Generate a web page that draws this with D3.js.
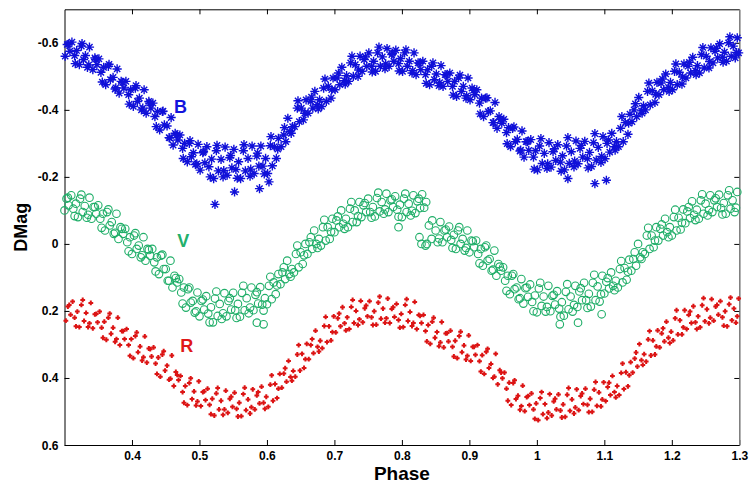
<!DOCTYPE html>
<html>
<head>
<meta charset="utf-8">
<script src="https://cdn.jsdelivr.net/npm/d3@7"></script>
<style>
  body { margin: 0; background: #fff; overflow: hidden; }
  svg { display: block; font-family: "Liberation Sans", Arial, sans-serif; }
  .axis path, .axis line { stroke: #000; }
  .axis text { font-size: 12px; font-weight: bold; fill: #000; }
</style>
</head>
<body>
<svg id="chart"></svg>
<script>
const width = 752;
const height = 484;
const margin = { left: 64.5, right: 12.7, top: 9.3, bottom: 39 };

const xTicks = [0.4, 0.5, 0.6, 0.7, 0.8, 0.9, 1.0, 1.1, 1.2, 1.3];
const yTicks = [-0.6, -0.4, -0.2, 0, 0.2, 0.4, 0.6];

// [phase, DMag]
const bPoints = [
  [0.301,-0.56],[0.304,-0.595],[0.308,-0.575],[0.311,-0.602],[0.315,-0.562],[0.318,-0.577],
  [0.322,-0.535],[0.325,-0.59],[0.328,-0.55],[0.331,-0.562],[0.334,-0.527],[0.337,-0.587],
  [0.342,-0.52],[0.345,-0.555],[0.348,-0.535],[0.351,-0.552],[0.354,-0.512],[0.358,-0.527],
  [0.361,-0.475],[0.365,-0.53],[0.368,-0.49],[0.372,-0.497],[0.375,-0.462],[0.378,-0.522],
  [0.381,-0.45],[0.384,-0.485],[0.388,-0.465],[0.391,-0.485],[0.395,-0.445],[0.398,-0.46],
  [0.402,-0.41],[0.405,-0.465],[0.408,-0.425],[0.411,-0.435],[0.414,-0.40],[0.418,-0.46],
  [0.421,-0.39],[0.425,-0.425],[0.428,-0.405],[0.431,-0.42],[0.434,-0.38],[0.438,-0.395],
  [0.441,-0.34],[0.445,-0.395],[0.448,-0.355],[0.452,-0.352],[0.455,-0.317],[0.458,-0.377],
  [0.461,-0.295],[0.464,-0.33],[0.468,-0.31],[0.471,-0.325],[0.475,-0.285],[0.478,-0.30],
  [0.482,-0.245],[0.485,-0.30],[0.488,-0.26],[0.491,-0.272],[0.494,-0.237],[0.498,-0.297],
  [0.501,-0.22],[0.505,-0.272],[0.508,-0.242],[0.511,-0.29],[0.514,-0.23],[0.518,-0.253],
  [0.521,-0.195],[0.525,-0.278],[0.528,-0.218],[0.523,-0.118],
  [0.532,-0.252],[0.535,-0.20],[0.538,-0.289],[0.541,-0.205],[0.545,-0.257],[0.548,-0.227],
  [0.551,-0.282],[0.554,-0.222],[0.558,-0.245],[0.552,-0.155],
  [0.561,-0.195],[0.565,-0.278],[0.568,-0.218],[0.572,-0.255],[0.575,-0.202],[0.578,-0.292],
  [0.581,-0.21],[0.585,-0.262],[0.588,-0.232],[0.589,-0.165],
  [0.591,-0.292],[0.594,-0.232],[0.598,-0.255],[0.601,-0.21],[0.605,-0.293],[0.608,-0.233],[0.603,-0.185],
  [0.611,-0.29],[0.614,-0.255],[0.617,-0.315],[0.621,-0.29],[0.625,-0.325],[0.628,-0.305],
  [0.631,-0.375],[0.634,-0.335],[0.638,-0.35],[0.641,-0.35],[0.645,-0.405],[0.648,-0.365],
  [0.651,-0.405],[0.654,-0.37],[0.658,-0.43],[0.661,-0.39],[0.665,-0.425],[0.668,-0.405],
  [0.671,-0.455],[0.675,-0.415],[0.678,-0.43],[0.681,-0.41],[0.684,-0.465],[0.688,-0.425],
  [0.691,-0.47],[0.695,-0.435],[0.698,-0.495],[0.701,-0.46],[0.704,-0.495],[0.708,-0.475],
  [0.711,-0.527],[0.715,-0.487],[0.718,-0.502],[0.721,-0.485],[0.724,-0.54],[0.728,-0.50],
  [0.731,-0.535],[0.735,-0.50],[0.738,-0.56],[0.741,-0.515],[0.744,-0.55],[0.748,-0.53],
  [0.751,-0.57],[0.755,-0.53],[0.758,-0.545],[0.761,-0.515],[0.764,-0.57],[0.768,-0.53],
  [0.771,-0.558],[0.775,-0.523],[0.778,-0.583],[0.781,-0.53],[0.785,-0.565],[0.788,-0.545],
  [0.791,-0.578],[0.795,-0.538],[0.798,-0.553],[0.801,-0.515],[0.804,-0.57],[0.808,-0.53],
  [0.811,-0.545],[0.815,-0.51],[0.818,-0.57],[0.821,-0.505],[0.824,-0.54],[0.828,-0.52],
  [0.831,-0.545],[0.835,-0.505],[0.838,-0.52],[0.841,-0.475],[0.844,-0.53],[0.848,-0.49],
  [0.851,-0.507],[0.855,-0.472],[0.858,-0.532],[0.861,-0.47],[0.864,-0.505],[0.868,-0.485],
  [0.871,-0.51],[0.875,-0.47],[0.878,-0.485],[0.881,-0.44],[0.884,-0.495],[0.888,-0.455],
  [0.891,-0.47],[0.895,-0.435],[0.898,-0.495],[0.901,-0.43],[0.904,-0.465],[0.908,-0.445],
  [0.911,-0.46],[0.915,-0.42],[0.918,-0.435],[0.921,-0.38],[0.924,-0.435],[0.928,-0.395],
  [0.931,-0.397],[0.935,-0.362],[0.938,-0.422],[0.941,-0.345],[0.944,-0.38],[0.948,-0.36],
  [0.951,-0.372],[0.955,-0.332],[0.958,-0.347],[0.961,-0.29],[0.964,-0.345],[0.968,-0.305],
  [0.971,-0.312],[0.975,-0.277],[0.978,-0.337],[0.981,-0.259],[0.984,-0.305],[0.988,-0.279],
  [0.991,-0.311],[0.995,-0.259],[0.998,-0.278],[1.001,-0.221],[1.004,-0.292],[1.008,-0.24],
  [1.011,-0.27],[1.015,-0.225],[1.018,-0.302],[1.021,-0.229],[1.024,-0.275],[1.028,-0.249],
  [1.031,-0.296],[1.035,-0.244],[1.038,-0.263],[1.041,-0.221],[1.044,-0.292],[1.048,-0.24],[1.046,-0.195],
  [1.051,-0.275],[1.055,-0.23],[1.058,-0.307],[1.061,-0.239],[1.064,-0.285],[1.068,-0.259],
  [1.071,-0.306],[1.075,-0.254],[1.078,-0.273],[1.081,-0.231],[1.084,-0.302],[1.088,-0.25],[1.086,-0.18],
  [1.091,-0.288],[1.095,-0.243],[1.098,-0.32],[1.101,-0.254],[1.104,-0.30],[1.108,-0.274],[1.103,-0.19],
  [1.111,-0.33],[1.115,-0.29],[1.118,-0.305],[1.121,-0.29],[1.124,-0.345],[1.128,-0.305],
  [1.131,-0.362],[1.135,-0.327],[1.138,-0.387],[1.141,-0.365],[1.144,-0.40],[1.148,-0.38],
  [1.151,-0.437],[1.155,-0.397],[1.158,-0.412],[1.161,-0.40],[1.164,-0.455],[1.168,-0.415],
  [1.171,-0.457],[1.175,-0.422],[1.178,-0.482],[1.181,-0.445],[1.184,-0.48],[1.188,-0.46],
  [1.191,-0.507],[1.195,-0.467],[1.198,-0.482],[1.201,-0.46],[1.204,-0.515],[1.208,-0.475],
  [1.211,-0.512],[1.215,-0.477],[1.218,-0.537],[1.221,-0.495],[1.224,-0.53],[1.228,-0.51],
  [1.231,-0.557],[1.235,-0.517],[1.238,-0.532],[1.241,-0.51],[1.244,-0.565],[1.248,-0.525],
  [1.251,-0.56],[1.255,-0.525],[1.258,-0.585],[1.261,-0.54],[1.264,-0.575],[1.268,-0.555],
  [1.271,-0.597],[1.275,-0.557],[1.278,-0.572],[1.281,-0.545],[1.284,-0.60],[1.288,-0.56],
  [1.291,-0.59],[1.294,-0.555],[1.297,-0.615],[1.299,-0.57],
  // second pass
  [0.306,-0.596],[0.316,-0.538],[0.326,-0.598],[0.336,-0.534],[0.346,-0.551],[0.356,-0.483],
  [0.366,-0.536],[0.376,-0.466],[0.386,-0.482],[0.396,-0.417],[0.406,-0.472],[0.416,-0.405],
  [0.426,-0.42],[0.436,-0.35],[0.446,-0.396],[0.456,-0.316],[0.466,-0.325],[0.476,-0.255],
  [0.486,-0.308],[0.496,-0.239],[0.506,-0.275],[0.516,-0.20],[0.526,-0.294],[0.536,-0.219],
  [0.546,-0.264],[0.556,-0.196],[0.566,-0.296],[0.576,-0.223],[0.586,-0.271],[0.596,-0.209],
  [0.606,-0.32],[0.616,-0.283],[0.626,-0.347],[0.636,-0.33],[0.646,-0.427],[0.656,-0.39],
  [0.666,-0.438],[0.676,-0.403],[0.686,-0.492],[0.696,-0.46],[0.706,-0.51],[0.716,-0.477],
  [0.726,-0.56],[0.736,-0.519],[0.746,-0.558],[0.756,-0.513],[0.766,-0.587],[0.776,-0.537],
  [0.786,-0.569],[0.796,-0.516],[0.806,-0.579],[0.816,-0.517],[0.826,-0.539],[0.836,-0.479],
  [0.846,-0.54],[0.856,-0.481],[0.866,-0.504],[0.876,-0.444],[0.886,-0.504],[0.896,-0.442],
  [0.906,-0.458],[0.916,-0.388],[0.926,-0.436],[0.936,-0.362],[0.946,-0.371],[0.956,-0.299],
  [0.966,-0.349],[0.976,-0.28],[0.986,-0.305],[0.996,-0.223],[1.006,-0.314],[1.016,-0.239],
  [1.026,-0.284],[1.036,-0.217],[1.046,-0.317],[1.056,-0.247],[1.066,-0.294],[1.076,-0.227],
  [1.086,-0.329],[1.096,-0.261],[1.106,-0.31],[1.116,-0.28],[1.126,-0.38],[1.136,-0.36],
  [1.146,-0.418],[1.156,-0.39],[1.166,-0.48],[1.176,-0.446],[1.186,-0.492],[1.196,-0.455],
  [1.206,-0.537],[1.216,-0.498],[1.226,-0.542],[1.236,-0.505],[1.246,-0.586],[1.256,-0.544],
  [1.266,-0.584],[1.276,-0.542],[1.286,-0.618],[1.296,-0.571]
];

const vPoints = [
  [0.300,-0.10],[0.303,-0.135],[0.306,-0.115],[0.310,-0.145],[0.313,-0.105],[0.317,-0.12],
  [0.320,-0.08],[0.323,-0.135],[0.327,-0.095],[0.330,-0.113],[0.333,-0.078],[0.337,-0.138],
  [0.340,-0.075],[0.343,-0.11],[0.347,-0.09],[0.350,-0.115],[0.353,-0.075],[0.357,-0.09],
  [0.360,-0.04],[0.363,-0.095],[0.367,-0.055],[0.370,-0.065],[0.373,-0.03],[0.377,-0.09],
  [0.380,-0.015],[0.383,-0.05],[0.387,-0.03],[0.390,-0.045],[0.393,-0.005],[0.397,-0.02],
  [0.400,0.03],[0.403,-0.025],[0.407,0.015],[0.410,0.005],[0.413,0.04],[0.417,-0.02],
  [0.420,0.05],[0.423,0.015],[0.427,0.035],[0.430,0.015],[0.433,0.055],[0.437,0.04],
  [0.440,0.09],[0.443,0.035],[0.447,0.075],[0.450,0.075],[0.453,0.11],[0.457,0.05],
  [0.460,0.13],[0.463,0.095],[0.467,0.115],[0.470,0.105],[0.473,0.145],[0.477,0.13],
  [0.480,0.19],[0.483,0.135],[0.487,0.175],[0.490,0.17],[0.493,0.205],[0.497,0.145],
  [0.500,0.216],[0.503,0.17],[0.507,0.196],[0.510,0.156],[0.513,0.208],[0.517,0.189],
  [0.520,0.234],[0.523,0.163],[0.527,0.215],[0.530,0.179],[0.533,0.224],[0.537,0.147],
  [0.540,0.216],[0.543,0.17],[0.547,0.196],[0.550,0.146],[0.553,0.198],[0.557,0.179],
  [0.560,0.217],[0.563,0.146],[0.567,0.198],[0.570,0.162],[0.573,0.207],[0.577,0.13],
  [0.580,0.198],[0.583,0.152],[0.587,0.178],[0.585,0.235],
  [0.590,0.129],[0.593,0.181],[0.597,0.162],[0.595,0.24],
  [0.600,0.18],[0.603,0.125],[0.607,0.165],[0.610,0.115],[0.613,0.15],[0.617,0.09],
  [0.620,0.12],[0.623,0.085],[0.627,0.105],[0.630,0.05],[0.633,0.09],[0.637,0.075],
  [0.640,0.085],[0.643,0.03],[0.647,0.07],[0.650,0.025],[0.653,0.06],[0.657,0.0],
  [0.660,0.03],[0.663,-0.005],[0.667,0.015],[0.670,-0.04],[0.673,0.0],[0.677,-0.015],
  [0.680,0.005],[0.683,-0.05],[0.687,-0.01],[0.690,-0.05],[0.693,-0.015],[0.697,-0.075],
  [0.700,-0.035],[0.703,-0.07],[0.707,-0.05],[0.710,-0.10],[0.713,-0.06],[0.717,-0.075],
  [0.720,-0.05],[0.723,-0.105],[0.727,-0.065],[0.730,-0.10],[0.733,-0.065],[0.737,-0.125],
  [0.740,-0.08],[0.743,-0.115],[0.747,-0.095],[0.750,-0.135],[0.753,-0.095],[0.757,-0.11],
  [0.760,-0.082],[0.763,-0.137],[0.767,-0.097],[0.770,-0.125],[0.773,-0.09],[0.777,-0.15],
  [0.780,-0.095],[0.783,-0.13],[0.787,-0.11],[0.790,-0.142],[0.793,-0.102],[0.797,-0.117],
  [0.795,-0.05],[0.800,-0.08],[0.803,-0.135],[0.807,-0.095],[0.810,-0.12],[0.813,-0.085],
  [0.817,-0.145],[0.820,-0.092],[0.823,-0.127],[0.827,-0.107],[0.830,-0.148],[0.833,-0.108],
  [0.826,-0.02],[0.829,0.0],[0.837,0.0],[0.840,-0.055],[0.844,-0.015],
  [0.850,-0.04],[0.853,-0.005],[0.857,-0.065],[0.860,-0.005],[0.863,-0.04],[0.867,-0.02],
  [0.870,-0.052],[0.873,-0.012],[0.877,-0.027],[0.880,0.015],[0.883,-0.04],[0.887,0.0],
  [0.890,-0.015],[0.893,0.02],[0.897,-0.04],[0.900,0.025],[0.903,-0.01],[0.907,0.01],
  [0.910,-0.01],[0.913,0.03],[0.917,0.015],[0.920,0.065],[0.923,0.01],[0.927,0.05],
  [0.930,0.045],[0.933,0.08],[0.937,0.02],[0.940,0.095],[0.943,0.06],[0.947,0.08],
  [0.950,0.07],[0.953,0.11],[0.957,0.095],[0.960,0.15],[0.963,0.095],[0.967,0.135],
  [0.970,0.13],[0.973,0.165],[0.977,0.105],[0.980,0.178],[0.983,0.132],[0.987,0.158],
  [0.990,0.121],[0.993,0.173],[0.997,0.154],[1.000,0.204],[1.003,0.133],[1.007,0.185],
  [1.010,0.157],[1.013,0.202],[1.017,0.125],[1.020,0.201],[1.023,0.155],[1.027,0.181],
  [1.030,0.141],[1.033,0.193],[1.037,0.174],[1.034,0.24],
  [1.040,0.214],[1.043,0.143],[1.047,0.195],[1.050,0.157],[1.053,0.202],[1.057,0.125],
  [1.060,0.188],[1.063,0.142],[1.067,0.168],[1.061,0.235],
  [1.070,0.116],[1.073,0.168],[1.077,0.149],[1.080,0.187],[1.083,0.116],[1.087,0.168],
  [1.090,0.127],[1.093,0.172],[1.097,0.095],[1.096,0.21],
  [1.100,0.148],[1.103,0.113],[1.107,0.133],[1.110,0.085],[1.113,0.125],[1.117,0.11],
  [1.120,0.13],[1.123,0.075],[1.127,0.115],[1.130,0.072],[1.133,0.107],[1.137,0.047],
  [1.140,0.08],[1.143,0.045],[1.147,0.065],[1.150,0.0],[1.153,0.04],[1.157,0.025],
  [1.160,0.03],[1.163,-0.025],[1.167,0.015],[1.170,-0.025],[1.173,0.01],[1.177,-0.05],
  [1.180,-0.01],[1.183,-0.045],[1.187,-0.025],[1.190,-0.075],[1.193,-0.035],[1.197,-0.05],
  [1.200,-0.025],[1.203,-0.08],[1.207,-0.04],[1.210,-0.078],[1.213,-0.043],[1.217,-0.103],
  [1.220,-0.062],[1.223,-0.097],[1.227,-0.077],[1.230,-0.127],[1.233,-0.087],[1.237,-0.102],
  [1.240,-0.075],[1.243,-0.13],[1.247,-0.09],[1.250,-0.12],[1.253,-0.085],[1.257,-0.145],
  [1.260,-0.095],[1.263,-0.13],[1.267,-0.11],[1.270,-0.147],[1.273,-0.107],[1.277,-0.122],
  [1.280,-0.09],[1.283,-0.145],[1.287,-0.105],[1.290,-0.13],[1.293,-0.095],[1.297,-0.155],
  // second pass
  [0.305,-0.138],[0.315,-0.083],[0.325,-0.147],[0.335,-0.087],[0.345,-0.11],[0.355,-0.048],
  [0.365,-0.103],[0.375,-0.033],[0.385,-0.045],[0.395,0.022],[0.405,-0.032],[0.415,0.034],
  [0.425,0.018],[0.435,0.082],[0.445,0.032],[0.455,0.11],[0.465,0.102],[0.475,0.178],
  [0.485,0.13],[0.495,0.201],[0.505,0.166],[0.515,0.234],[0.525,0.142],[0.535,0.207],
  [0.545,0.162],[0.555,0.221],[0.565,0.125],[0.575,0.19],[0.585,0.144],[0.595,0.199],
  [0.605,0.098],[0.615,0.124],[0.625,0.07],[0.635,0.098],[0.645,0.005],[0.655,0.034],
  [0.665,-0.02],[0.675,0.012],[0.685,-0.072],[0.695,-0.036],[0.705,-0.082],[0.715,-0.045],
  [0.725,-0.125],[0.735,-0.083],[0.745,-0.122],[0.755,-0.078],[0.765,-0.153],[0.775,-0.103],
  [0.785,-0.133],[0.795,-0.081],[0.805,-0.15],[0.815,-0.099],[0.825,-0.135],[0.836,-0.125],
  [0.835,0.005],[0.845,-0.07],[0.855,-0.016],[0.865,-0.043],[0.875,0.012],[0.885,-0.05],
  [0.895,0.012],[0.905,-0.008],[0.915,0.058],[0.925,0.005],[0.935,0.077],[0.945,0.068],
  [0.955,0.14],[0.965,0.09],[0.975,0.162],[0.985,0.13],[0.995,0.201],[1.005,0.116],
  [1.015,0.188],[1.025,0.152],[1.035,0.217],[1.045,0.12],[1.055,0.182],[1.065,0.132],
  [1.075,0.191],[1.085,0.092],[1.095,0.15],[1.105,0.102],[1.115,0.138],[1.125,0.051],
  [1.135,0.083],[1.145,0.025],[1.155,0.045],[1.165,-0.048],[1.175,-0.01],[1.185,-0.058],
  [1.195,-0.02],[1.205,-0.102],[1.215,-0.063],[1.225,-0.11],[1.235,-0.071],[1.245,-0.148],
  [1.255,-0.101],[1.265,-0.136],[1.275,-0.088],[1.285,-0.16],[1.295,-0.108]
];

const rPoints = [
  [0.302,0.229],[0.305,0.187],[0.309,0.211],[0.312,0.172],[0.315,0.22],[0.319,0.202],
  [0.322,0.248],[0.325,0.182],[0.329,0.23],[0.332,0.206],[0.335,0.248],[0.339,0.176],
  [0.342,0.252],[0.345,0.21],[0.349,0.234],[0.352,0.202],[0.355,0.25],[0.359,0.232],
  [0.362,0.286],[0.365,0.22],[0.369,0.268],[0.372,0.25],[0.375,0.292],[0.379,0.22],
  [0.382,0.302],[0.385,0.26],[0.389,0.284],[0.392,0.254],[0.395,0.302],[0.399,0.284],
  [0.402,0.341],[0.405,0.275],[0.409,0.323],[0.412,0.306],[0.415,0.348],[0.419,0.276],
  [0.422,0.354],[0.425,0.312],[0.429,0.336],[0.432,0.309],[0.435,0.357],[0.439,0.339],
  [0.442,0.396],[0.445,0.33],[0.449,0.378],[0.452,0.363],[0.455,0.405],[0.459,0.333],
  [0.462,0.424],[0.465,0.382],[0.469,0.406],[0.472,0.394],[0.475,0.442],[0.479,0.424],
  [0.482,0.481],[0.485,0.415],[0.489,0.463],[0.492,0.44],[0.495,0.482],[0.499,0.41],
  [0.502,0.484],[0.505,0.442],[0.509,0.466],[0.512,0.432],[0.515,0.48],[0.519,0.462],
  [0.522,0.512],[0.525,0.446],[0.529,0.494],[0.532,0.468],[0.535,0.51],[0.539,0.438],
  [0.542,0.504],[0.545,0.462],[0.549,0.486],[0.552,0.444],[0.555,0.492],[0.559,0.474],
  [0.562,0.514],[0.565,0.448],[0.569,0.496],[0.572,0.464],[0.575,0.506],[0.579,0.434],
  [0.582,0.494],[0.585,0.452],[0.589,0.476],[0.592,0.426],[0.595,0.474],[0.599,0.456],
  [0.602,0.486],[0.605,0.42],[0.609,0.468],[0.612,0.418],[0.615,0.46],[0.619,0.388],
  [0.622,0.429],[0.625,0.387],[0.629,0.411],[0.632,0.349],[0.635,0.397],[0.639,0.379],
  [0.642,0.396],[0.645,0.33],[0.649,0.378],[0.652,0.328],[0.655,0.37],[0.659,0.298],
  [0.662,0.344],[0.665,0.302],[0.669,0.326],[0.672,0.259],[0.675,0.307],[0.679,0.289],
  [0.682,0.311],[0.685,0.245],[0.689,0.293],[0.692,0.246],[0.695,0.288],[0.699,0.216],
  [0.702,0.264],[0.705,0.222],[0.709,0.246],[0.712,0.189],[0.715,0.237],[0.719,0.219],
  [0.722,0.254],[0.725,0.188],[0.729,0.236],[0.732,0.2],[0.735,0.242],[0.739,0.17],
  [0.742,0.234],[0.745,0.192],[0.749,0.216],[0.752,0.171],[0.755,0.219],[0.759,0.201],
  [0.762,0.241],[0.765,0.175],[0.769,0.223],[0.772,0.193],[0.775,0.235],[0.779,0.163],
  [0.782,0.236],[0.785,0.194],[0.789,0.218],[0.792,0.179],[0.795,0.227],[0.799,0.209],
  [0.802,0.248],[0.805,0.182],[0.809,0.23],[0.812,0.203],[0.815,0.245],[0.819,0.173],
  [0.822,0.254],[0.825,0.212],[0.829,0.236],[0.832,0.212],[0.835,0.26],[0.839,0.242],
  [0.842,0.298],[0.845,0.232],[0.849,0.28],[0.852,0.263],[0.855,0.305],[0.859,0.233],
  [0.862,0.309],[0.865,0.267],[0.869,0.291],[0.872,0.259],[0.875,0.307],[0.879,0.289],
  [0.882,0.341],[0.885,0.275],[0.889,0.323],[0.892,0.303],[0.895,0.345],[0.899,0.273],
  [0.902,0.349],[0.905,0.307],[0.909,0.331],[0.912,0.302],[0.915,0.35],[0.919,0.332],
  [0.922,0.388],[0.925,0.322],[0.929,0.37],[0.932,0.358],[0.935,0.40],[0.939,0.328],
  [0.942,0.419],[0.945,0.377],[0.949,0.401],[0.952,0.384],[0.955,0.432],[0.959,0.414],
  [0.962,0.481],[0.965,0.415],[0.969,0.463],[0.972,0.453],[0.975,0.495],[0.979,0.423],
  [0.982,0.499],[0.985,0.457],[0.989,0.481],[0.992,0.446],[0.995,0.494],[0.999,0.476],
  [1.002,0.526],[1.005,0.46],[1.009,0.508],[1.012,0.478],[1.015,0.52],[1.019,0.448],
  [1.022,0.512],[1.025,0.47],[1.029,0.494],[1.032,0.449],[1.035,0.497],[1.039,0.479],
  [1.042,0.516],[1.045,0.45],[1.049,0.498],[1.052,0.464],[1.055,0.506],[1.059,0.434],
  [1.062,0.496],[1.065,0.454],[1.069,0.478],[1.072,0.432],[1.075,0.48],[1.079,0.462],
  [1.082,0.501],[1.085,0.435],[1.089,0.483],[1.092,0.443],[1.095,0.485],[1.099,0.413],
  [1.102,0.469],[1.105,0.427],[1.109,0.451],[1.112,0.394],[1.115,0.442],[1.119,0.424],
  [1.122,0.451],[1.125,0.385],[1.129,0.433],[1.132,0.383],[1.135,0.425],[1.139,0.353],
  [1.142,0.384],[1.145,0.342],[1.149,0.366],[1.152,0.299],[1.155,0.347],[1.159,0.329],
  [1.162,0.351],[1.165,0.285],[1.169,0.333],[1.172,0.288],[1.175,0.33],[1.179,0.258],
  [1.182,0.309],[1.185,0.267],[1.189,0.291],[1.192,0.232],[1.195,0.28],[1.199,0.262],
  [1.202,0.288],[1.205,0.222],[1.209,0.27],[1.212,0.228],[1.215,0.27],[1.219,0.198],
  [1.222,0.254],[1.225,0.212],[1.229,0.236],[1.232,0.186],[1.235,0.234],[1.239,0.216],
  [1.242,0.249],[1.245,0.183],[1.249,0.231],[1.252,0.195],[1.255,0.237],[1.259,0.165],
  [1.262,0.229],[1.265,0.187],[1.269,0.211],[1.272,0.171],[1.275,0.219],[1.279,0.201],
  [1.282,0.246],[1.285,0.18],[1.289,0.228],[1.292,0.193],[1.295,0.235],[1.299,0.163],
  // second pass
  [0.307,0.182],[0.317,0.246],[0.327,0.167],[0.337,0.237],[0.347,0.209],[0.357,0.28],
  [0.367,0.208],[0.377,0.284],[0.387,0.26],[0.397,0.334],[0.407,0.264],[0.417,0.338],
  [0.427,0.314],[0.437,0.388],[0.447,0.32],[0.457,0.402],[0.467,0.391],[0.477,0.474],
  [0.487,0.401],[0.497,0.47],[0.507,0.44],[0.517,0.508],[0.527,0.43],[0.537,0.494],
  [0.547,0.456],[0.557,0.515],[0.567,0.429],[0.577,0.487],[0.587,0.442],[0.597,0.492],
  [0.607,0.392],[0.617,0.432],[0.627,0.371],[0.637,0.408],[0.647,0.302],[0.657,0.344],
  [0.667,0.284],[0.677,0.321],[0.687,0.218],[0.697,0.263],[0.707,0.208],[0.717,0.258],
  [0.727,0.167],[0.737,0.225],[0.747,0.184],[0.757,0.242],[0.767,0.157],[0.777,0.222],
  [0.787,0.189],[0.797,0.25],[0.807,0.165],[0.817,0.236],[0.827,0.215],[0.837,0.291],
  [0.847,0.22],[0.857,0.294],[0.867,0.266],[0.877,0.336],[0.887,0.262],[0.897,0.334],
  [0.907,0.307],[0.917,0.381],[0.927,0.313],[0.937,0.396],[0.947,0.384],[0.957,0.468],
  [0.967,0.407],[0.977,0.484],[0.987,0.454],[0.997,0.522],[1.007,0.442],[1.017,0.503],
  [1.027,0.462],[1.037,0.518],[1.047,0.43],[1.057,0.488],[1.067,0.446],[1.077,0.502],
  [1.087,0.412],[1.097,0.464],[1.107,0.414],[1.117,0.458],[1.127,0.357],[1.137,0.392],
  [1.147,0.324],[1.157,0.361],[1.167,0.26],[1.177,0.306],[1.187,0.252],[1.197,0.296],
  [1.207,0.198],[1.217,0.249],[1.227,0.202],[1.237,0.254],[1.247,0.162],[1.257,0.22],
  [1.267,0.182],[1.277,0.244],[1.287,0.16],[1.297,0.216]
];

const bandLabels = [
  { name: "B", phase: 0.472, dmag: -0.39, color: "#1414dc" },
  { name: "V", phase: 0.476, dmag: 0.009, color: "#22b06c" },
  { name: "R", phase: 0.481, dmag: 0.322, color: "#e01818" }
];

const innerWidth  = width  - margin.left - margin.right;
const innerHeight = height - margin.top  - margin.bottom;

const svg = d3.select("#chart")
  .attr("width", width)
  .attr("height", height)
  .attr("viewBox", `0 0 ${width} ${height}`);

const g = svg.append("g")
  .attr("transform", `translate(${margin.left},${margin.top})`);

const x = d3.scaleLinear().domain([0.3, 1.3]).range([0, innerWidth]);
const y = d3.scaleLinear().domain([-0.7, 0.6]).range([0, innerHeight]);

const fmt = d => String(+d.toFixed(1));

// axes, MATLAB style box with inward ticks
const xAxis = g.append("g").attr("class", "axis")
  .attr("transform", `translate(0,${innerHeight})`)
  .call(d3.axisBottom(x).tickValues(xTicks).tickFormat(fmt).tickSizeInner(-5).tickSizeOuter(0));
xAxis.selectAll("text").attr("dy", null).attr("y", 15);

const topAxis = g.append("g").attr("class", "axis")
  .call(d3.axisTop(x).tickValues(xTicks.slice(0, -1)).tickSizeInner(-5).tickSizeOuter(0));
topAxis.selectAll("text").remove();

const yAxis = g.append("g").attr("class", "axis")
  .call(d3.axisLeft(y).tickValues(yTicks).tickFormat(fmt).tickSizeInner(-5).tickSizeOuter(0));
yAxis.selectAll("text").attr("dy", null).attr("x", -6).attr("y", 4);

const rightAxis = g.append("g").attr("class", "axis")
  .attr("transform", `translate(${innerWidth},0)`)
  .call(d3.axisRight(y).tickValues(yTicks).tickSizeInner(-5).tickSizeOuter(0));
rightAxis.selectAll("text").remove();
rightAxis.select("path").style("stroke", "#808080").style("stroke-width", 1.6);

// B: asterisks
const star = "M-4.6,0H4.6M0,-4.6V4.6M-3.1,-3.1L3.1,3.1M-3.1,3.1L3.1,-3.1";
g.append("g")
  .selectAll("path")
  .data(bPoints)
  .join("path")
  .attr("transform", d => `translate(${x(d[0])},${y(d[1])})`)
  .attr("d", star)
  .attr("fill", "none")
  .attr("stroke", "#1010d8")
  .attr("stroke-width", 1.4);

// V: open circles
g.append("g")
  .selectAll("circle")
  .data(vPoints)
  .join("circle")
  .attr("cx", d => x(d[0]))
  .attr("cy", d => y(d[1]))
  .attr("r", 3.8)
  .attr("fill", "none")
  .attr("stroke", "#1fae68")
  .attr("stroke-width", 1.1);

// R: small plus
const plus = "M-2.4,0H2.4M0,-2.4V2.4";
g.append("g")
  .selectAll("path")
  .data(rPoints)
  .join("path")
  .attr("transform", d => `translate(${x(d[0])},${y(d[1])})`)
  .attr("d", plus)
  .attr("fill", "none")
  .attr("stroke", "#dc1414")
  .attr("stroke-width", 2);

g.selectAll(".band-label")
  .data(bandLabels)
  .join("text")
  .attr("class", "band-label")
  .attr("x", d => x(d.phase))
  .attr("y", d => y(d.dmag))
  .attr("text-anchor", "middle")
  .style("font-size", "18px")
  .style("font-weight", "bold")
  .style("fill", d => d.color)
  .text(d => d.name);

svg.append("text")
  .attr("x", margin.left + innerWidth / 2)
  .attr("y", 480)
  .attr("text-anchor", "middle")
  .style("font-size", "19px")
  .style("font-weight", "bold")
  .text("Phase");

svg.append("text")
  .attr("transform", `translate(27,${margin.top + innerHeight / 2}) rotate(-90)`)
  .attr("text-anchor", "middle")
  .style("font-size", "18px")
  .style("font-weight", "bold")
  .text("DMag");
</script>
</body>
</html>
